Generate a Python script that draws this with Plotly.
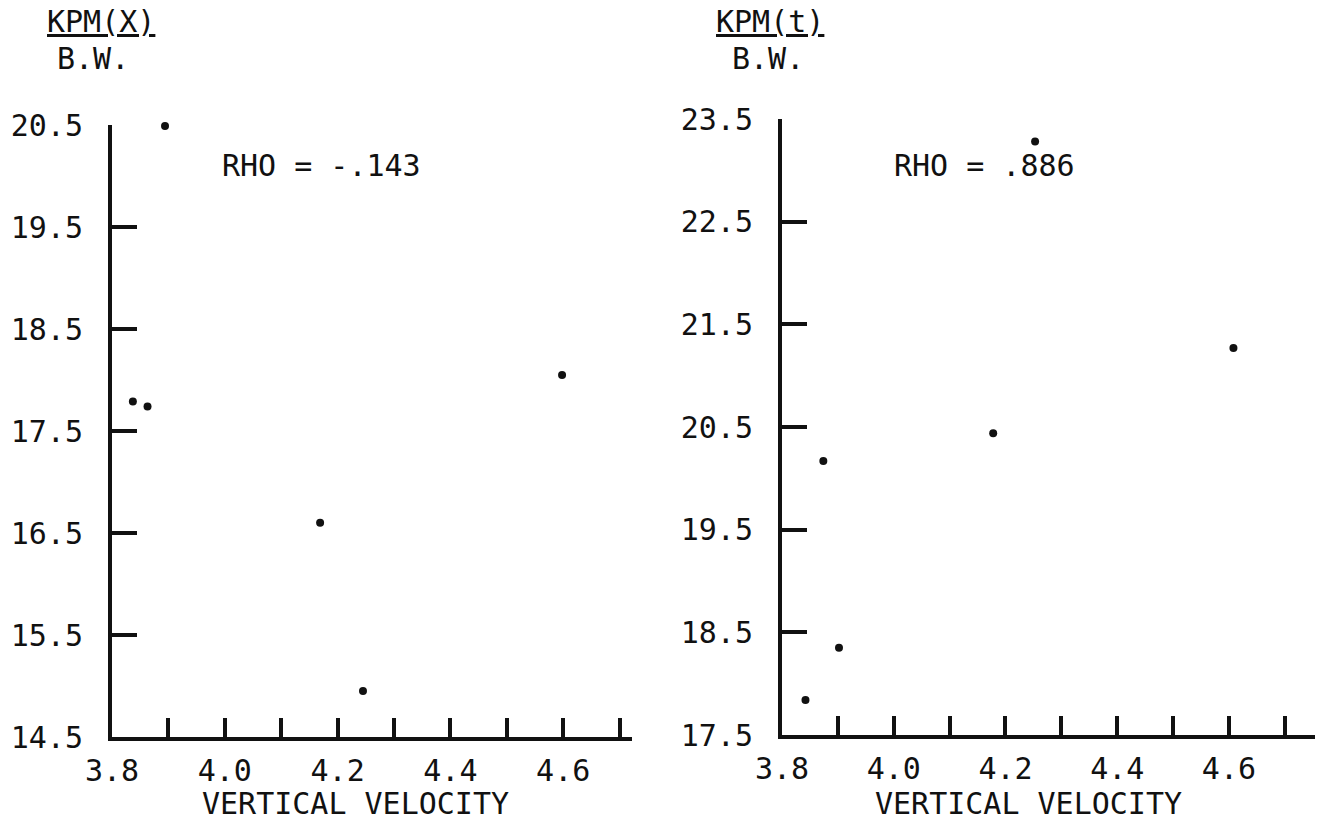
import plotly.graph_objects as go

# ---- data ----
left_x = [3.894, 3.837, 3.863, 4.598, 4.169, 4.245]
left_y = [20.49, 17.79, 17.74, 18.05, 16.60, 14.95]
right_x = [4.253, 4.608, 4.178, 3.874, 3.902, 3.842]
right_y = [23.28, 21.27, 20.44, 20.17, 18.35, 17.84]

x_tickvals = [3.8, 4.0, 4.2, 4.4, 4.6]
x_ticktext = ["3.8", "4.0", "4.2", "4.4", "4.6"]
left_yticks = [14.5, 15.5, 16.5, 17.5, 18.5, 19.5, 20.5]
right_yticks = [17.5, 18.5, 19.5, 20.5, 21.5, 22.5, 23.5]

left_ytitle = ["KPM(X)", "B.W."]
right_ytitle = ["KPM(t)", "B.W."]
left_rho = "RHO = -.143"
right_rho = "RHO = .886"
xtitle = "VERTICAL VELOCITY"

W, H = 1321, 822
FONT = "DejaVu Sans Mono"
INK = "#111111"
FS = 30


def px(x):
    return x / W


def py(y):
    return 1 - y / H


fig = go.Figure()
fig.add_trace(go.Scatter(x=left_x, y=left_y, mode="markers",
                         marker=dict(size=8, color=INK), xaxis="x", yaxis="y",
                         cliponaxis=False, showlegend=False))
fig.add_trace(go.Scatter(x=right_x, y=right_y, mode="markers",
                         marker=dict(size=8, color=INK), xaxis="x2", yaxis="y2",
                         cliponaxis=False, showlegend=False))

xcommon = dict(
    tickvals=x_tickvals, ticktext=x_ticktext, ticks="inside", ticklen=19,
    tickwidth=4, tickcolor=INK, showline=True, linewidth=4, linecolor=INK,
    showgrid=False, zeroline=False, ticklabelstandoff=4, automargin=False,
    tickfont=dict(family=FONT, size=FS, color=INK),
    minor=dict(dtick=0.1, tick0=3.8, ticks="inside", ticklen=19,
               tickwidth=4, tickcolor=INK, showgrid=False),
)
ycommon = dict(
    ticks="inside", ticklen=25, tickwidth=4, tickcolor=INK, showline=True,
    linewidth=4, linecolor=INK, showgrid=False, zeroline=False, automargin=False,
    ticklabelstandoff=19, tickfont=dict(family=FONT, size=FS, color=INK),
)

fig.update_layout(
    width=W, height=H,
    margin=dict(l=0, r=0, t=0, b=0, autoexpand=False),
    paper_bgcolor="white", plot_bgcolor="white",
    xaxis=dict(domain=[px(112), px(632)], range=[3.8, 4.722], anchor="y", **xcommon),
    yaxis=dict(domain=[py(737), py(125)], range=[14.5, 20.5], anchor="x",
               tickvals=left_yticks, ticktext=[f"{v:.1f}" for v in left_yticks], **ycommon),
    xaxis2=dict(domain=[px(782), px(1315)], range=[3.8, 4.754], anchor="y2", **xcommon),
    yaxis2=dict(domain=[py(735), py(119)], range=[17.5, 23.5], anchor="x2",
                tickvals=right_yticks, ticktext=[f"{v:.1f}" for v in right_yticks], **ycommon),
)

txt = dict(family=FONT, size=FS, color=INK)
ann = []
# y titles (fraction style)
ann.append(dict(x=px(101), y=py(22), text=f"<u>{left_ytitle[0]}</u>"))
ann.append(dict(x=px(93), y=py(58), text=left_ytitle[1]))
ann.append(dict(x=px(770), y=py(22), text=f"<u>{right_ytitle[0]}</u>"))
ann.append(dict(x=px(768), y=py(58), text=right_ytitle[1]))
# x titles
ann.append(dict(x=px(200), y=py(803), text=xtitle, xanchor="left"))
ann.append(dict(x=px(873), y=py(803), text=xtitle, xanchor="left"))
# RHO labels
ann.append(dict(x=px(220), y=py(166), text=left_rho, xanchor="left"))
ann.append(dict(x=px(892), y=py(166), text=right_rho, xanchor="left"))

for a in ann:
    a.setdefault("xanchor", "center")
    a.update(xref="paper", yref="paper", yanchor="middle", showarrow=False, font=txt)
fig.update_layout(annotations=ann)

fig.write_html("out.html")
